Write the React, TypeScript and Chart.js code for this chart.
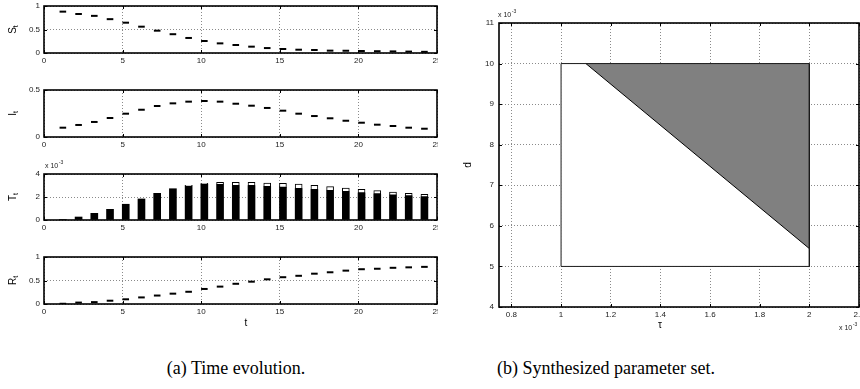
import React, { useEffect, useRef } from "react";
import { Chart, registerables } from "chart.js";
Chart.register(...registerables);

// ---------- data ----------
const tSteps = [1, 2, 3, 4, 5, 6, 7, 8, 9, 10, 11, 12, 13, 14, 15, 16, 17, 18, 19, 20, 21, 22, 23, 24];
const sValues = [0.88, 0.83, 0.79, 0.72, 0.645, 0.56, 0.475, 0.4, 0.32, 0.255, 0.205, 0.17, 0.135, 0.105, 0.085, 0.07, 0.064, 0.05, 0.048, 0.042, 0.038, 0.034, 0.03, 0.025];
const iValues = [0.099, 0.128, 0.16, 0.202, 0.248, 0.29, 0.33, 0.358, 0.376, 0.383, 0.376, 0.354, 0.333, 0.309, 0.28, 0.248, 0.223, 0.199, 0.173, 0.152, 0.131, 0.117, 0.099, 0.088];
// T values in units of 1e-3
const tTotal = [0.05, 0.26, 0.58, 0.93, 1.37, 1.83, 2.32, 2.72, 3.02, 3.19, 3.28, 3.28, 3.28, 3.22, 3.19, 3.13, 3.01, 2.9, 2.78, 2.67, 2.55, 2.43, 2.32, 2.23];
const tLower = [0.05, 0.26, 0.58, 0.93, 1.37, 1.83, 2.32, 2.72, 2.99, 3.12, 3.07, 2.98, 2.98, 2.9, 2.84, 2.72, 2.64, 2.55, 2.46, 2.35, 2.26, 2.17, 2.09, 2.0];
const rValues = [0.005, 0.03, 0.04, 0.07, 0.1, 0.14, 0.18, 0.22, 0.26, 0.32, 0.37, 0.43, 0.475, 0.525, 0.57, 0.6, 0.645, 0.675, 0.71, 0.74, 0.75, 0.77, 0.78, 0.79];
const markOffset = 0.2;

// parameter set (tau and d in units of 1e-3)
const tauTicks = [0.8, 1, 1.2, 1.4, 1.6, 1.8, 2, 2.2];
const tauRange = [0.75, 2.2];
const dRange = [4, 11];
const boxTau = [1, 2];
const boxD = [5, 10];
const hypoTau = [1.1, 2];
const hypoD = [10, 5.44];

const FONT = "'Liberation Sans', Arial, sans-serif";

function drawLabel(ctx: CanvasRenderingContext2D, x: number, y: number, main: string, sub: string, rotate: boolean, size = 10) {
  ctx.save();
  ctx.translate(x, y);
  if (rotate) ctx.rotate(-Math.PI / 2);
  ctx.fillStyle = "#000";
  ctx.font = `${size}px ${FONT}`;
  const wm = ctx.measureText(main).width;
  ctx.font = `${size * 0.7}px ${FONT}`;
  const ws = sub ? ctx.measureText(sub).width : 0;
  const total = wm + ws;
  ctx.textBaseline = "middle";
  ctx.textAlign = "left";
  ctx.font = `${size}px ${FONT}`;
  ctx.fillText(main, -total / 2, 0);
  if (sub) {
    ctx.font = `${size * 0.7}px ${FONT}`;
    ctx.fillText(sub, -total / 2 + wm, size * 0.3);
  }
  ctx.restore();
}

function drawExpo(ctx: CanvasRenderingContext2D, x: number, y: number) {
  ctx.save();
  ctx.fillStyle = "#222";
  ctx.textBaseline = "alphabetic";
  ctx.textAlign = "left";
  ctx.font = `7px ${FONT}`;
  ctx.fillText("x 10", x, y);
  const w = ctx.measureText("x 10").width;
  ctx.font = `5px ${FONT}`;
  ctx.fillText("-3", x + w + 0.5, y - 4);
  ctx.restore();
}

type Extra = { ylab?: [number, number, string, string]; xlab?: [number, number, string]; expos?: [number, number][] };

function framePlugin(extra: Extra) {
  return {
    id: "frame",
    afterDraw(chart: any) {
      const { ctx, chartArea: a, scales } = chart;
      const xs = scales.x, ys = scales.y;
      ctx.save();
      ctx.strokeStyle = "#000";
      ctx.lineWidth = 1;
      ctx.beginPath();
      xs.ticks.forEach((t: any) => {
        const px = Math.round(xs.getPixelForValue(t.value)) + 0.5;
        ctx.moveTo(px, a.bottom);
        ctx.lineTo(px, a.bottom - 3);
        ctx.moveTo(px, a.top);
        ctx.lineTo(px, a.top + 3);
      });
      ys.ticks.forEach((t: any) => {
        const py = Math.round(ys.getPixelForValue(t.value)) + 0.5;
        ctx.moveTo(a.left, py);
        ctx.lineTo(a.left + 3, py);
        ctx.moveTo(a.right, py);
        ctx.lineTo(a.right - 3, py);
      });
      ctx.stroke();
      ctx.lineWidth = 1.6;
      ctx.strokeRect(a.left, a.top, a.right - a.left, a.bottom - a.top);
      ctx.restore();
      if (extra.ylab) drawLabel(ctx, extra.ylab[0], extra.ylab[1], extra.ylab[2], extra.ylab[3], true);
      if (extra.xlab) drawLabel(ctx, extra.xlab[0], extra.xlab[1], extra.xlab[2], "", false);
      (extra.expos || []).forEach(([x, y]) => drawExpo(ctx, x, y));
    },
  };
}

function axisX(min: number, max: number, height: number, ticks?: number[], step?: number) {
  return {
    type: "linear",
    min,
    max,
    offset: false,
    afterFit: (s: any) => {
      s.height = height;
      s.paddingLeft = 0;
      s.paddingRight = 0;
    },
    afterBuildTicks: ticks ? (s: any) => { s.ticks = ticks.map((v) => ({ value: v })); } : undefined,
    ticks: {
      stepSize: step,
      maxRotation: 0,
      autoSkip: false,
      padding: 3,
      color: "#222",
      font: { family: FONT, size: 8 },
      callback: (v: any) => String(Math.round(v * 1000) / 1000),
    },
    grid: { color: "#8a8a8a", drawTicks: false, offset: false, lineWidth: 1 },
    border: { display: false, dash: [1, 2] },
  };
}

function axisY(min: number, max: number, width: number, step: number, pad = 4) {
  return {
    type: "linear",
    min,
    max,
    afterFit: (s: any) => {
      s.width = width;
      s.paddingTop = 0;
      s.paddingBottom = 0;
    },
    ticks: {
      stepSize: step,
      padding: pad,
      color: "#222",
      font: { family: FONT, size: 8 },
      callback: (v: any) => String(Math.round(v * 1000) / 1000),
    },
    grid: { color: "#8a8a8a", drawTicks: false, lineWidth: 1 },
    border: { display: false, dash: [1, 2] },
  };
}

function ChartBox({ make, left, top, width, height }: { make: () => any; left: number; top: number; width: number; height: number }) {
  const ref = useRef<HTMLCanvasElement>(null);
  useEffect(() => {
    const chart = new Chart(ref.current as HTMLCanvasElement, make());
    return () => chart.destroy();
  }, []);
  return <canvas ref={ref} width={width} height={height} style={{ position: "absolute", left, top, width, height }} />;
}

const PAD_TOP = 14;
const X_H = 28;

function dashPanel(values: number[], ymax: number, step: number, extra: Extra) {
  return () => ({
    type: "scatter",
    data: {
      datasets: [
        {
          data: tSteps.map((t, i) => ({ x: t + markOffset, y: values[i] })),
          pointStyle: "line",
          pointRadius: 3.3,
          pointBorderWidth: 2,
          borderColor: "#000",
          backgroundColor: "#000",
          showLine: false,
        },
      ],
    },
    options: {
      animation: false,
      responsive: false,
      layout: { autoPadding: false, padding: { top: PAD_TOP, right: 1, left: 0, bottom: 0 } },
      plugins: { legend: { display: false }, tooltip: { enabled: false } },
      scales: { x: axisX(0, 25, X_H, undefined, 5), y: axisY(0, ymax, 44, step) },
    },
    plugins: [framePlugin(extra)],
  });
}

function barPanel(extra: Extra) {
  return () => ({
    type: "bar",
    data: {
      datasets: [
        {
          data: tSteps.map((t, i) => ({ x: t + markOffset, y: tLower[i] })),
          backgroundColor: "#000",
          borderWidth: 0,
          barThickness: 7,
          grouped: false,
          order: 2,
        },
        {
          data: tSteps.map((t, i) => ({ x: t + markOffset, y: tTotal[i] > tLower[i] ? [tLower[i], tTotal[i]] : null })),
          backgroundColor: "#fff",
          borderColor: "#000",
          borderWidth: 1,
          borderSkipped: false,
          barThickness: 7,
          grouped: false,
          order: 1,
        },
      ],
    },
    options: {
      animation: false,
      responsive: false,
      layout: { autoPadding: false, padding: { top: PAD_TOP, right: 1, left: 0, bottom: 0 } },
      plugins: { legend: { display: false }, tooltip: { enabled: false } },
      scales: { x: axisX(0, 25, X_H, undefined, 5), y: axisY(0, 4, 44, 2) },
    },
    plugins: [framePlugin(extra)],
  });
}

const PARAM_H = 335;
const PARAM_XH = 28;
const PARAM_W = 420;

function paramPanel() {
  return () => ({
    type: "line",
    data: {
      datasets: [
        {
          data: [{ x: boxTau[0], y: boxD[1] }, { x: boxTau[1], y: boxD[1] }],
          fill: { value: boxD[0] },
          backgroundColor: "#fff",
          borderWidth: 0,
          pointRadius: 0,
          order: 3,
        },
        {
          data: [{ x: hypoTau[0], y: hypoD[0] }, { x: hypoTau[1], y: hypoD[1] }],
          fill: { value: boxD[1] },
          backgroundColor: "#808080",
          borderColor: "#000",
          borderWidth: 1,
          pointRadius: 0,
          order: 2,
        },
        {
          data: [
            { x: boxTau[0], y: boxD[0] },
            { x: boxTau[0], y: boxD[1] },
            { x: boxTau[1], y: boxD[1] },
            { x: boxTau[1], y: boxD[0] },
            { x: boxTau[0], y: boxD[0] },
          ],
          fill: false,
          borderColor: "#1a1a1a",
          borderWidth: 1,
          pointRadius: 0,
          tension: 0,
          order: 1,
        },
      ],
    },
    options: {
      animation: false,
      responsive: false,
      layout: { autoPadding: false, padding: { top: 23, right: PARAM_W - 399, left: 0, bottom: 0 } },
      plugins: { legend: { display: false }, tooltip: { enabled: false } },
      scales: { x: axisX(tauRange[0], tauRange[1], PARAM_XH, tauTicks), y: axisY(dRange[0], dRange[1], 39, 1, 5) },
    },
    plugins: [framePlugin({ ylab: [8, 165, "d", ""], xlab: [200, 325, "τ"], expos: [[379, 330]] }), {
      id: "topExpo",
      afterDraw(chart: any) { drawExpo(chart.ctx, 38, 17); },
    }],
  });
}

const panels = [
  { top: 6, bottom: 53 },
  { top: 90, bottom: 137 },
  { top: 174, bottom: 220 },
  { top: 257, bottom: 304 },
];

const captionStyle = {
  position: "absolute" as const,
  top: 357,
  width: 300,
  textAlign: "center" as const,
  font: "18px 'Liberation Serif', serif",
  lineHeight: "22px",
  whiteSpace: "nowrap" as const,
  color: "#000",
};

export default function App() {
  const h = (p: { top: number; bottom: number }) => PAD_TOP + (p.bottom - p.top) + X_H;
  const midY = (p: { top: number; bottom: number }) => PAD_TOP + (p.bottom - p.top) / 2;
  return (
    <div style={{ position: "fixed", left: 0, top: 0, width: 860, height: 389, background: "#fff", overflow: "hidden" }}>
      <ChartBox left={0} top={panels[0].top - PAD_TOP} width={438} height={h(panels[0])}
        make={dashPanel(sValues, 1, 0.5, { ylab: [13, midY(panels[0]), "S", "t"] })} />
      <ChartBox left={0} top={panels[1].top - PAD_TOP} width={438} height={h(panels[1])}
        make={dashPanel(iValues, 0.5, 0.5, { ylab: [13, midY(panels[1]), "I", "t"] })} />
      <ChartBox left={0} top={panels[2].top - PAD_TOP} width={438} height={h(panels[2])}
        make={barPanel({ ylab: [13, midY(panels[2]), "T", "t"], expos: [[45, 8]] })} />
      <ChartBox left={0} top={panels[3].top - PAD_TOP} width={438} height={h(panels[3])}
        make={dashPanel(rValues, 1, 0.5, { ylab: [13, midY(panels[3]), "R", "t"], xlab: [246, PAD_TOP + 47 + 19, "t"] })} />
      <ChartBox left={460} top={0} width={PARAM_W} height={PARAM_H} make={paramPanel()} />
      <div style={{ ...captionStyle, left: 236 - 150 }}>(a) Time evolution.</div>
      <div style={{ ...captionStyle, left: 606 - 150 }}>(b) Synthesized parameter set.</div>
    </div>
  );
}
